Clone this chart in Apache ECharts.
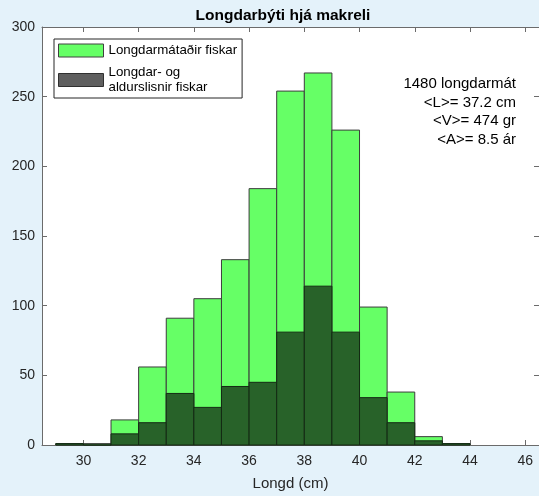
<!DOCTYPE html>
<html><head><meta charset="utf-8">
<script src="https://cdn.jsdelivr.net/npm/echarts@6/dist/echarts.min.js"></script>
<style>html,body{margin:0;padding:0;background:#e4f2fa}#c{width:539px;height:496px}</style>
</head><body><div id="c"></div>
<script>
const binStarts = [29,30,31,32,33,34,35,36,37,38,39,40,41,42,43];
const lengthMeasured = [1,1,18,56,91,105,133,184,254,267,226,99,38,6,1];
const lengthAgeMeasured = [1,0,8,16,37,27,42,45,81,114,81,34,16,3,1];
const xTicks = [30,32,34,36,38,40,42,44,46];
const seriesNames = ['Longdarmátaðir fiskar','Longdar- og\naldurslisnir fiskar'];
const titleText = 'Longdarbýti hjá makreli';
const xLabel = 'Longd (cm)';
const infoLines = ['1480 longdarmát','<L>= 37.2 cm','<V>= 474 gr','<A>= 8.5 ár'];

const FONT = '"Liberation Sans", Arial, Helvetica, sans-serif';
const GREEN = '#66ff66', DARK = '#286229';

function makeRender(fill, stroke){
  return function(params, api){
    const x0 = api.value(0), h = api.value(1);
    const p0 = api.coord([x0, h]);
    const p1 = api.coord([x0 + 1, 0]);
    return {type:'rect', shape:{x:p0[0], y:p0[1], width:p1[0]-p0[0], height:p1[1]-p0[1]},
      style:{fill:fill, stroke:stroke, lineWidth:1}};
  };
}
const axisLineStyle = {color:'#6b6b6b', width:1};
function xAx(pos, labels){
  return {type:'value', min:28.5, max:46.5, position:pos,
    axisLine:{show:true, onZero:false, lineStyle:axisLineStyle},
    axisTick:{show:true, inside:true, length:5, customValues:xTicks, lineStyle:axisLineStyle},
    axisLabel:{show:labels, customValues:xTicks, color:'#262626', fontSize:14, fontFamily:FONT, margin:9},
    splitLine:{show:false},
    name: labels ? xLabel : '', nameLocation:'middle', nameGap:31,
    nameTextStyle:{color:'#262626', fontSize:15, fontFamily:FONT}};
}
function yAx(pos, labels){
  return {type:'value', min:0, max:300, interval:50, position:pos,
    axisLine:{show:true, onZero:false, lineStyle:axisLineStyle},
    axisTick:{show:true, inside:true, length:5, lineStyle:axisLineStyle},
    axisLabel:{show:labels, color:'#262626', fontSize:14, fontFamily:FONT, margin:7},
    splitLine:{show:false}};
}
const chart = echarts.init(document.getElementById('c'), null, {renderer:'canvas'});
chart.setOption({
  backgroundColor:'#e4f2fa',
  animation:false,
  title:{text:titleText, left:283, top:8, padding:0, textAlign:'center',
    textStyle:{fontSize:15.5, fontWeight:'bold', color:'#000', fontFamily:FONT}},
  grid:{left:42, top:27, width:501, height:419, show:true, backgroundColor:'#ffffff', borderWidth:0},
  xAxis:[xAx('bottom', true), xAx('top', false)],
  yAxis:[yAx('left', true), yAx('right', false)],
  legend:{orient:'vertical', left:54, top:39, padding:[4,5,3,4], itemWidth:45, itemHeight:13, itemGap:7,
    backgroundColor:'#fff', borderColor:'#262626', borderWidth:1, borderRadius:0,
    textStyle:{fontSize:13.3, color:'#000', lineHeight:15, fontFamily:FONT},
    data:[{name:seriesNames[0], icon:'rect', itemStyle:{color:GREEN, borderColor:'#404040', borderWidth:1}},
          {name:seriesNames[1], icon:'rect', itemStyle:{color:'#5f5f5f', borderColor:'#303030', borderWidth:1}}]},
  graphic: infoLines.map((t,i)=>({type:'text', x:516, y:84 + i*18.5,
    style:{text:t, align:'right', verticalAlign:'middle', fontSize:15, fill:'#000', fontFamily:FONT}})),
  series:[
    {type:'custom', name:seriesNames[0], renderItem:makeRender(GREEN, '#3d3d3d'), itemStyle:{color:GREEN},
      encode:{x:0, y:1}, data:binStarts.map((b,i)=>[b, lengthMeasured[i]])},
    {type:'custom', name:seriesNames[1], renderItem:makeRender(DARK, '#142a14'), itemStyle:{color:DARK},
      encode:{x:0, y:1}, data:binStarts.map((b,i)=>[b, lengthAgeMeasured[i]])}
  ]
});
</script></body></html>
